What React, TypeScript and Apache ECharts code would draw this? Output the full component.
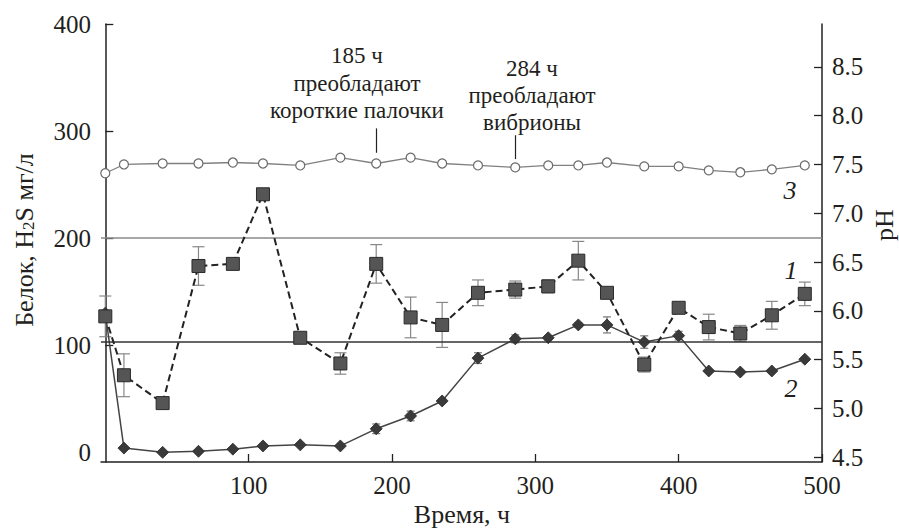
import React, { useEffect, useRef } from "react";
import * as echarts from "echarts";

// ---- data ----
const times = [0, 13, 40, 65, 89, 110, 136, 164, 189, 213, 235, 260, 286, 309, 330, 350, 376, 400, 421, 443, 465, 488];
// 1 — белок (squares, dashed), mg/l
const protein = [127, 72, 46, 174, 176, 241, 107, 83, 176, 126, 119, 149, 152, 155, 179, 149, 82, 135, 117, 111, 128, 148];
const proteinErr = [19, 20, 0, 18, 0, 3, 0, 10, 18, 19, 21, 12, 8, 6, 18, 0, 7, 5, 12, 7.5, 13, 11];
// 2 — H2S (diamonds, solid), mg/l
const h2s = [130, 4, 0, 1, 3, 6, 7, 6, 22, 34, 48, 88, 106, 107, 119, 119, 103, 109, 76, 75, 76, 87];
const h2sErr = [0, 0, 0, 0, 0, 0, 0, 0, 4.5, 4.5, 2, 5, 3.7, 2, 2, 7.5, 5.8, 4, 0, 0, 0, 0];
// 3 — pH (open circles)
const ph = [7.41, 7.5, 7.51, 7.51, 7.52, 7.51, 7.49, 7.57, 7.51, 7.57, 7.51, 7.49, 7.47, 7.49, 7.49, 7.52, 7.48, 7.48, 7.44, 7.42, 7.45, 7.49];
// horizontal reference lines (left axis)
const refLines = [200, 103];

const xTicks = [100, 200, 300, 400, 500];
const leftLabels = [0, 100, 200, 300, 400];
const leftTicks = [100, 200, 300, 400];
const phTicks = [4.5, 5.0, 5.5, 6.0, 6.5, 7.0, 7.5, 8.0, 8.5];

const FONT = '"Liberation Serif", "Times New Roman", serif';
const INK = "#231f20";

function errData(vals: number[], errs: number[]) {
  const out: number[][] = [];
  times.forEach((t, i) => {
    if (errs[i] > 0) out.push([t, vals[i] - errs[i], vals[i] + errs[i]]);
  });
  return out;
}

function errSeries(data: number[][], cap: number, color: string) {
  return {
    type: "custom",
    yAxisIndex: 0,
    z: 1,
    silent: true,
    data,
    encode: { x: 0, y: [1, 2] },
    renderItem: (params: any, api: any) => {
      const x = api.value(0);
      const lo = api.coord([x, api.value(1)]);
      const hi = api.coord([x, api.value(2)]);
      const st = { stroke: color, lineWidth: 1.2 };
      return {
        type: "group",
        children: [
          { type: "line", shape: { x1: lo[0], y1: lo[1], x2: hi[0], y2: hi[1] }, style: st },
          { type: "line", shape: { x1: lo[0] - cap, y1: lo[1], x2: lo[0] + cap, y2: lo[1] }, style: st },
          { type: "line", shape: { x1: hi[0] - cap, y1: hi[1], x2: hi[0] + cap, y2: hi[1] }, style: st },
        ],
      };
    },
  };
}

export default function App() {
  const ref = useRef<HTMLDivElement>(null);
  useEffect(() => {
    if (!ref.current) return;
    const chart = echarts.init(ref.current, null, { renderer: "svg" });
    const txt = (text: string, x: number, y: number, size = 23, extra: any = {}) => ({
      type: "text",
      x,
      y,
      silent: true,
      style: { text, fontFamily: FONT, fontSize: size, fill: INK, align: "center", verticalAlign: "middle", ...extra },
    });
    const option: any = {
      animation: false,
      backgroundColor: "#ffffff",
      grid: { left: 101, right: 77, top: 24, bottom: 67, containLabel: false },
      xAxis: {
        type: "value",
        min: -3,
        max: 500,
        axisLine: { show: true, onZero: false, lineStyle: { color: "#222", width: 1.5 } },
        axisTick: { show: true, inside: true, length: 8, customValues: xTicks, lineStyle: { color: "#222", width: 1.3 } },
        axisLabel: { customValues: xTicks, fontFamily: FONT, fontSize: 25, color: INK, margin: 11 },
        splitLine: { show: false },
      },
      yAxis: [
        {
          type: "value",
          min: -9,
          max: 400,
          position: "left",
          axisLine: { show: true, lineStyle: { color: "#222", width: 1.5 } },
          axisTick: { show: true, inside: true, length: 8, customValues: leftTicks, lineStyle: { color: "#222", width: 1.3 } },
          axisLabel: { customValues: leftLabels, fontFamily: FONT, fontSize: 25, color: INK, margin: 10 },
          splitLine: { show: false },
        },
        {
          type: "value",
          min: 4.45,
          max: 8.94,
          position: "right",
          axisLine: { show: true, lineStyle: { color: "#222", width: 1.5 } },
          axisTick: { show: true, inside: true, length: 8, customValues: phTicks, lineStyle: { color: "#222", width: 1.3 } },
          axisLabel: {
            customValues: phTicks,
            fontFamily: FONT,
            fontSize: 25,
            color: INK,
            margin: 10,
            formatter: (v: number) => v.toFixed(1),
          },
          splitLine: { show: false },
        },
      ],
      series: [
        errSeries(errData(h2s, h2sErr), 4, "#777"),
        errSeries(errData(protein, proteinErr), 6, "#888"),
        {
          name: "pH",
          type: "line",
          yAxisIndex: 1,
          z: 3,
          data: times.map((t, i) => [t, ph[i]]),
          symbol: "circle",
          symbolSize: 9,
          lineStyle: { color: "#808080", width: 1.3 },
          itemStyle: { color: "#ffffff", borderColor: "#6a6a6a", borderWidth: 1.2 },
          markLine: {
            silent: true,
            symbol: ["none", "arrow"],
            symbolSize: [0, 7],
            label: { show: false },
            lineStyle: { color: "#222", width: 1.2, type: "solid" },
            data: [
              [{ coord: [times[8], 7.87] }, { coord: [times[8], 7.62] }],
              [{ coord: [times[12], 7.8] }, { coord: [times[12], 7.555] }],
            ],
          },
        },
        {
          name: "H2S",
          type: "line",
          yAxisIndex: 0,
          z: 4,
          data: times.map((t, i) => [t, h2s[i]]),
          symbol: "diamond",
          symbolSize: 12,
          lineStyle: { color: "#444", width: 1.5 },
          itemStyle: { color: "#3a3a3a", borderColor: "#2a2a2a", borderWidth: 0.8 },
          markLine: {
            silent: true,
            symbol: ["none", "none"],
            label: { show: false },
            data: [
              { yAxis: refLines[0], lineStyle: { color: "#8a8a8a", width: 1.6, type: "solid" } },
              { yAxis: refLines[1], lineStyle: { color: "#333", width: 1.6, type: "solid" } },
            ],
          },
        },
        {
          name: "Белок",
          type: "line",
          yAxisIndex: 0,
          z: 5,
          data: times.map((t, i) => [t, protein[i]]),
          symbol: "rect",
          symbolSize: 13,
          lineStyle: { color: "#222", width: 2, type: [7, 4] },
          itemStyle: { color: "#555555", borderColor: "#2a2a2a", borderWidth: 1 },
        },
      ],
      graphic: [
        {
          type: "text",
          x: 22,
          y: 240,
          rotation: Math.PI / 2,
          silent: true,
          style: {
            text: "{a|Белок, H}{s|2}{a|S мг/л}",
            align: "center",
            verticalAlign: "middle",
            fill: INK,
            rich: {
              a: { fontFamily: FONT, fontSize: 26, lineHeight: 30, fill: INK, verticalAlign: "bottom" },
              s: { fontFamily: FONT, fontSize: 17, lineHeight: 17, fill: INK, verticalAlign: "bottom" },
            },
          },
        },
        { ...txt("pH", 884, 225, 26), rotation: Math.PI / 2 },
        txt("Время, ч", 462, 514, 26),
        txt("185 ч", 357, 55),
        txt("преобладают", 357, 83),
        txt("короткие палочки", 357, 110),
        txt("284 ч", 532, 68),
        txt("преобладают", 532, 95),
        txt("вибрионы", 532, 122),
        txt("3", 790, 190, 26, { fontStyle: "italic" }),
        txt("1", 791, 270, 26, { fontStyle: "italic" }),
        txt("2", 791, 388, 26, { fontStyle: "italic" }),
      ],
    };
    chart.setOption(option);
    return () => chart.dispose();
  }, []);
  return (
    <div
      ref={ref}
      style={{ position: "absolute", left: 0, top: 0, width: 899, height: 529, background: "#fff" }}
    />
  );
}
